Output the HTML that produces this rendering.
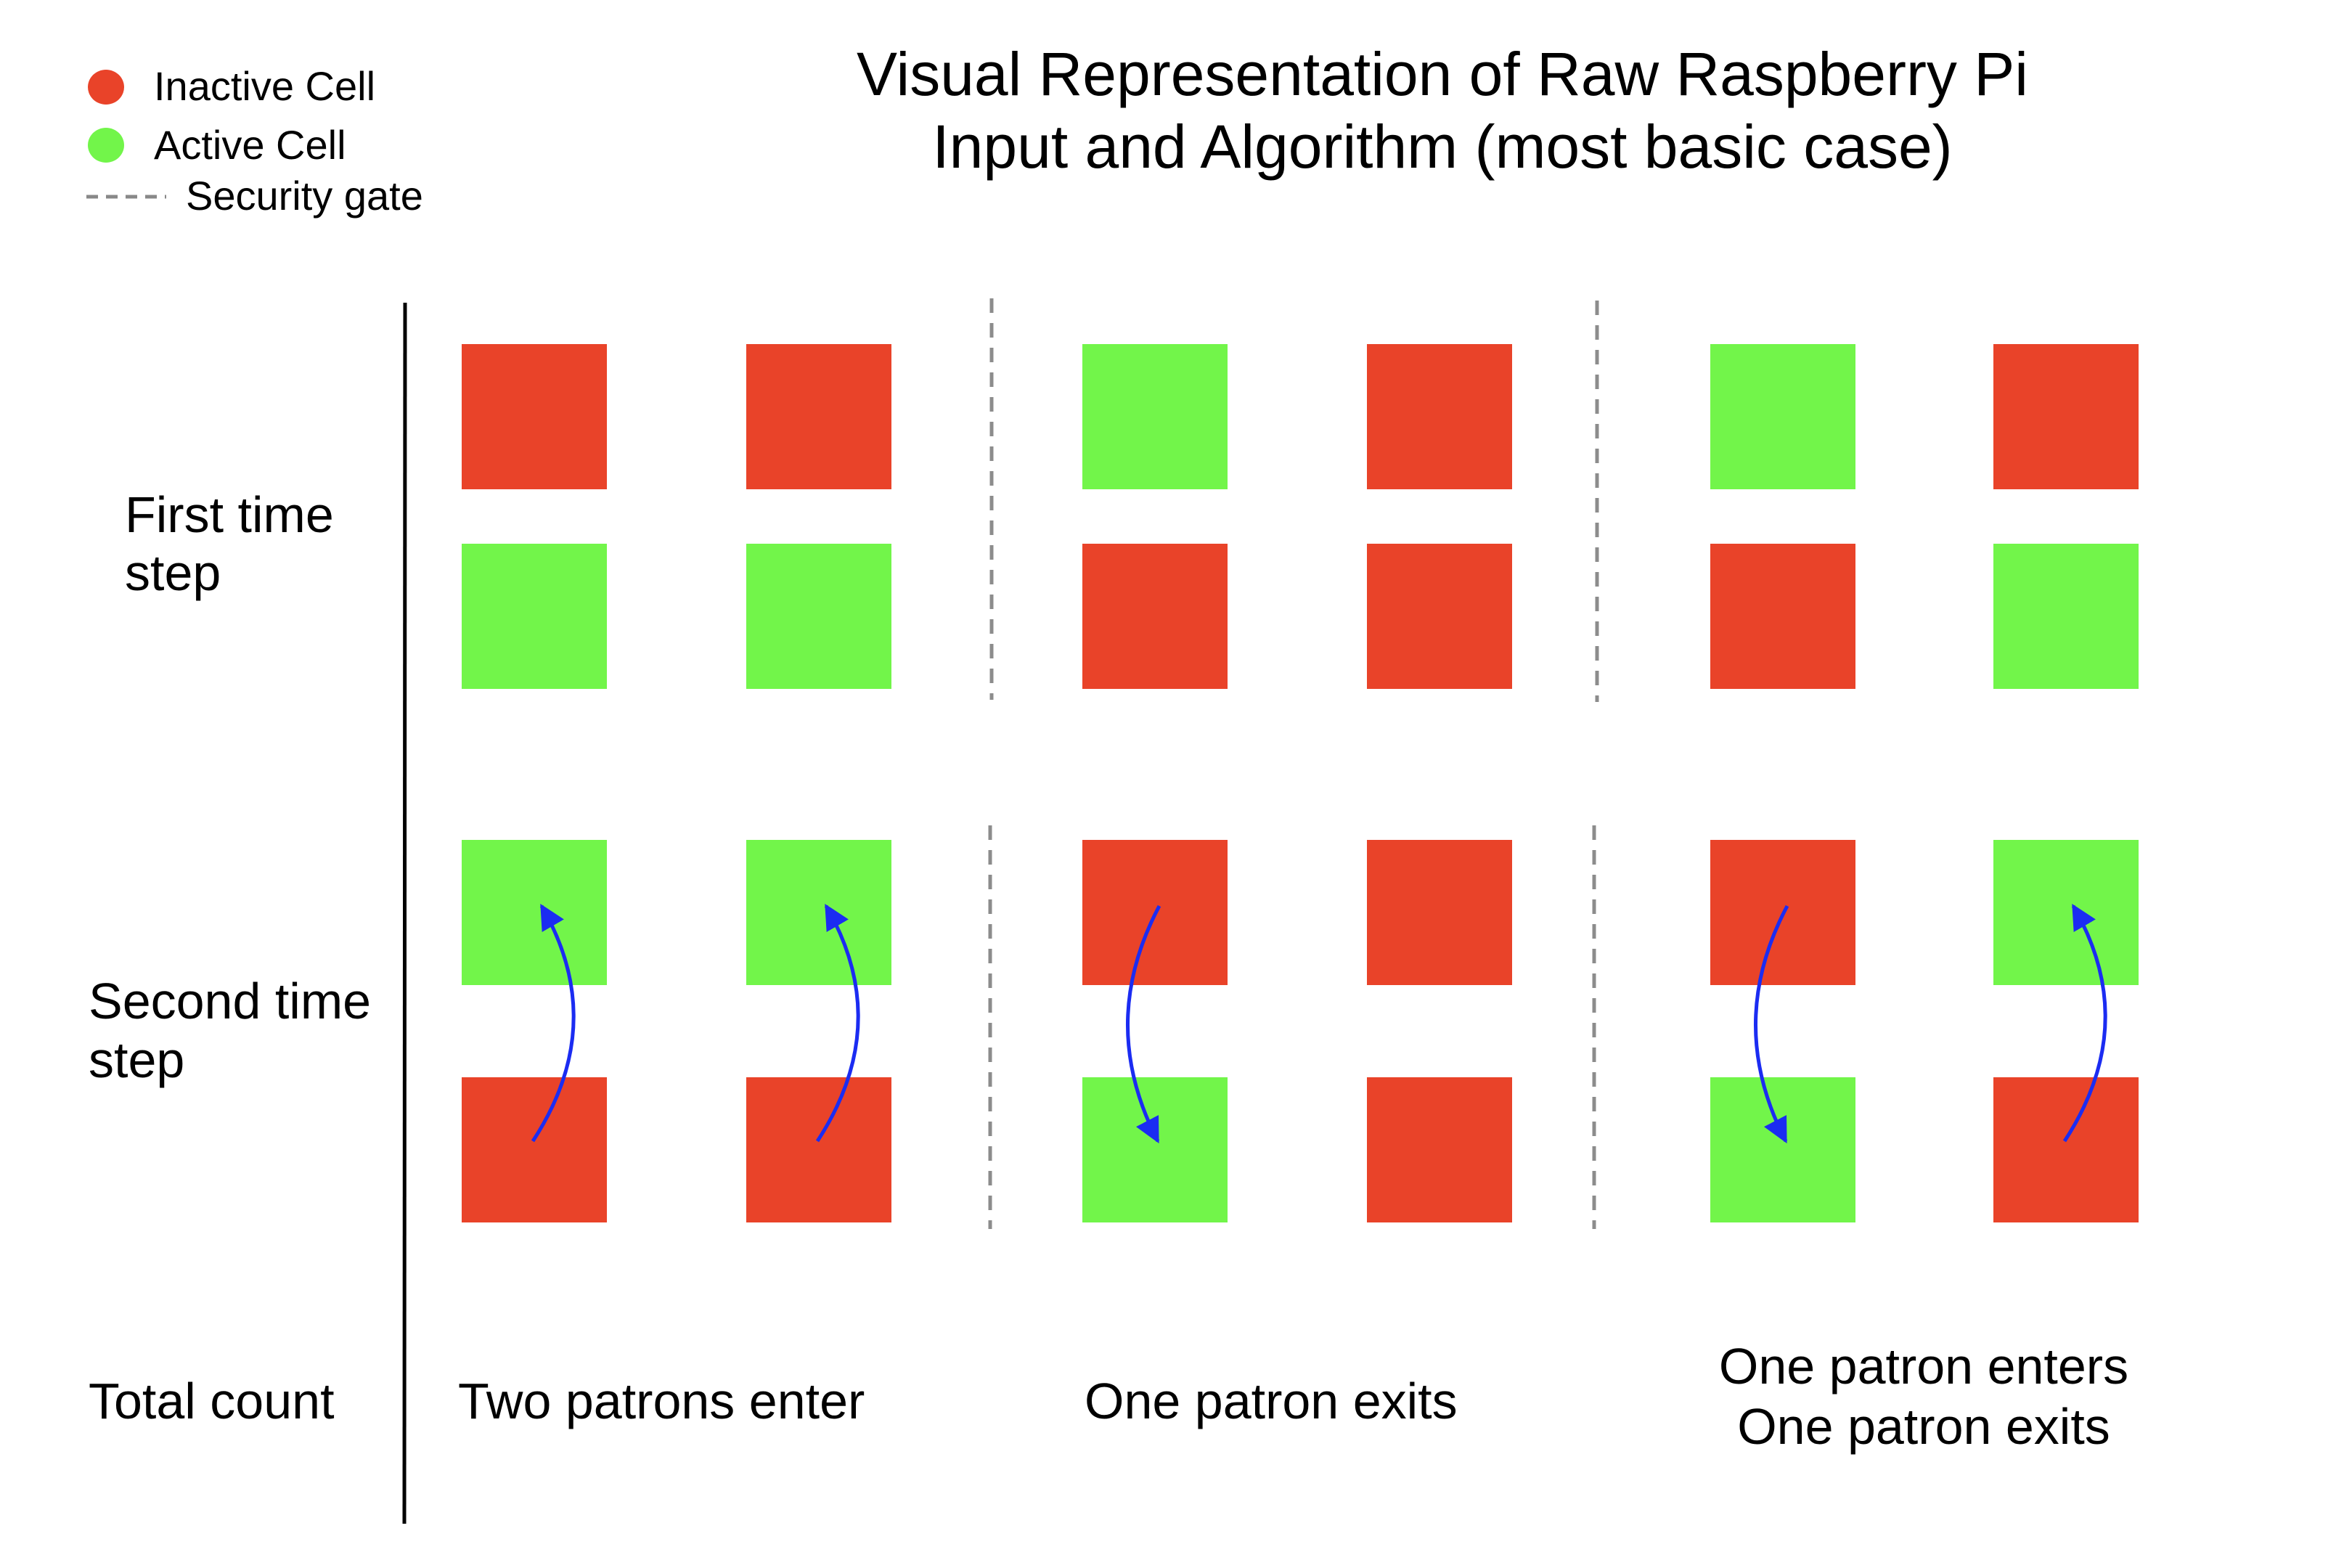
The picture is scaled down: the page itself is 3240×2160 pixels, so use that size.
<!DOCTYPE html>
<html><head><meta charset="utf-8"><style>
html,body{margin:0;padding:0;background:#fff}
svg{display:block}
text{font-family:"Liberation Sans",Arial,sans-serif;fill:#000}
</style></head><body>
<svg id="c" width="3240" height="2160" viewBox="0 0 3240 2160" xmlns="http://www.w3.org/2000/svg">
<defs><marker id="ah" viewBox="0 0 10 10" refX="9" refY="5" markerWidth="7" markerHeight="7" orient="auto"><path d="M0,0 L10,5 L0,10 z" fill="#1b2cf2"/></marker></defs>
<g>
<text x="1987" y="131" font-size="84" text-anchor="middle">Visual Representation of Raw Raspberry Pi</text>
<text x="1987" y="231" font-size="84" text-anchor="middle">Input and Algorithm (most basic case)</text>
</g>
<g>
<ellipse cx="146" cy="120" rx="25" ry="24" fill="#e94329"/>
<text x="212" y="138" font-size="56">Inactive Cell</text>
<ellipse cx="146" cy="200" rx="25" ry="24" fill="#72f54a"/>
<text x="212" y="219" font-size="56">Active Cell</text>
<line x1="119" y1="271" x2="229" y2="271" stroke="#888" stroke-width="5" stroke-dasharray="16,11"/>
<text x="256" y="289" font-size="56">Security gate</text>
</g>
<line x1="558" y1="417" x2="557" y2="2099" stroke="#000" stroke-width="5"/>
<g>
<text x="172" y="733" font-size="70">First time</text>
<text x="172" y="813" font-size="70">step</text>
<text x="122" y="1403" font-size="70">Second time</text>
<text x="122" y="1484" font-size="70">step</text>
<text x="122" y="1954" font-size="70">Total count</text>
</g>
<g>
<text x="631" y="1954" font-size="70">Two patrons enter</text>
<text x="1494" y="1954" font-size="70">One patron exits</text>
<text x="2650" y="1906" font-size="70" text-anchor="middle">One patron enters</text>
<text x="2650" y="1989" font-size="70" text-anchor="middle">One patron exits</text>
</g>
<g id="cells"></g>
<g id="gates"></g>
<g id="arrows"></g>
</svg>
<script>
// cell states: 0 = inactive (red), 1 = active (green)
const step1Top = [0,0,1,0,1,0];
const step1Bottom = [1,1,0,0,0,1];
const step2Top = [1,1,0,0,0,1];
const step2Bottom = [0,0,1,0,1,0];
const arrowDir = ['up','up','down','none','down','up'];
const outcomes = ['Two patrons enter','One patron exits','One patron enters / One patron exits'];

const colX = [636,1028,1491,1883,2356,2746];
const rowY = [474,749,1157,1484];
const S = 200;
const colors = ['#e94329','#72f54a'];
const NS = 'http://www.w3.org/2000/svg';
const cells = document.getElementById('cells');
const rows = [step1Top, step1Bottom, step2Top, step2Bottom];
const rowNames = ['step1-top','step1-bottom','step2-top','step2-bottom'];
rows.forEach((r, ri) => {
  r.forEach((v, ci) => {
    const el = document.createElementNS(NS, 'rect');
    el.setAttribute('x', colX[ci]); el.setAttribute('y', rowY[ri]);
    el.setAttribute('width', S); el.setAttribute('height', S);
    el.setAttribute('fill', colors[v]);
    
    
    cells.appendChild(el);
  });
});
const gates = document.getElementById('gates');
[[1366,411,964],[2200,414,967],[1364,1137,1693],[2196,1137,1693]].forEach((g) => {
  const el = document.createElementNS(NS, 'line');
  el.setAttribute('x1', g[0]); el.setAttribute('x2', g[0]);
  el.setAttribute('y1', g[1]); el.setAttribute('y2', g[2]);
  el.setAttribute('stroke', '#8c8c8c'); el.setAttribute('stroke-width', '5');
  el.setAttribute('stroke-dasharray', '20,14');
  
  
  gates.appendChild(el);
});
const arrows = document.getElementById('arrows');
arrowDir.forEach((d, ci) => {
  if (d === 'none') return;
  const cx = colX[ci] + S / 2;
  const yTop = 1248, yBot = 1572;
  const bulge = d === 'up' ? 100 : -85;
  const x0 = cx + (d === 'up' ? -2 : 6), x1 = cx + (d === 'up' ? 10 : 4);
  const y0 = d === 'up' ? yBot : yTop, y1 = d === 'up' ? yTop : yBot;
  const ctrl = (x0 + x1) / 2 + bulge;
  const el = document.createElementNS(NS, 'path');
  el.setAttribute('d', `M${x0},${y0} Q${ctrl},${(y0 + y1) / 2} ${x1},${y1}`);
  el.setAttribute('fill', 'none'); el.setAttribute('stroke', '#1b2cf2');
  el.setAttribute('stroke-width', '5'); el.setAttribute('marker-end', 'url(#ah)');
  
  
  arrows.appendChild(el);
});
</script>
</body></html>
